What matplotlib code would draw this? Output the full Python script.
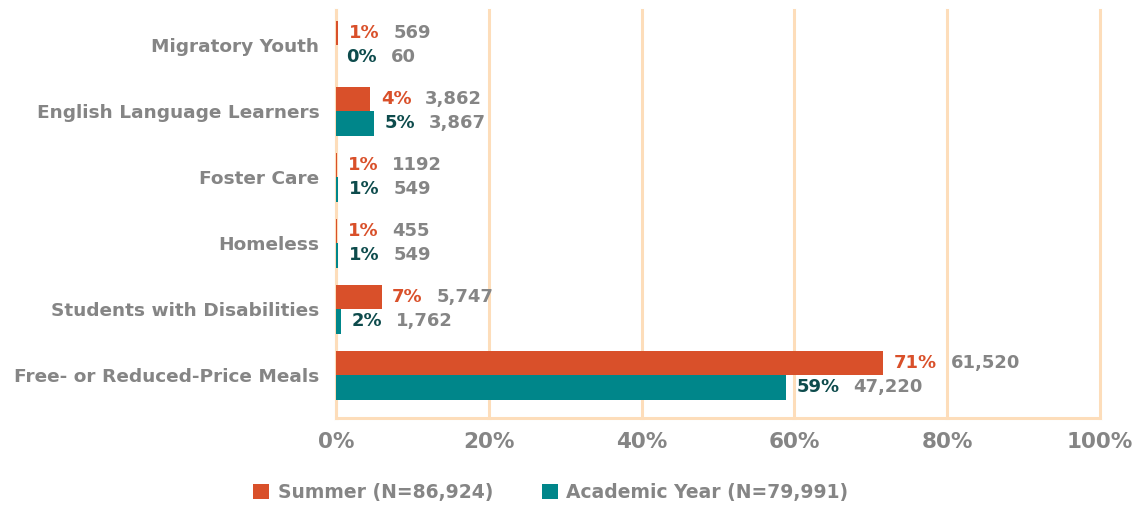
import matplotlib
matplotlib.use("Agg")
import matplotlib.pyplot as plt
import numpy as np

# data (top to bottom)
categories = ["Migratory Youth", "English Language Learners", "Foster Care",
              "Homeless", "Students with Disabilities", "Free- or Reduced-Price Meals"]
summer_pct = [0.3, 4.5, 0.2, 0.2, 6.0, 71.6]
academic_pct = [0.0, 5.0, 0.3, 0.3, 0.7, 58.9]
summer_pct_labels = ["1%", "4%", "1%", "1%", "7%", "71%"]
academic_pct_labels = ["0%", "5%", "1%", "1%", "2%", "59%"]
summer_counts = ["569", "3,862", "1192", "455", "5,747", "61,520"]
academic_counts = ["60", "3,867", "549", "549", "1,762", "47,220"]
legend_labels = ["Summer (N=86,924)", "Academic Year (N=79,991)"]

orange = "#D9502A"
teal = "#00868A"
dark_teal = "#0D4B4C"
gray = "#858585"
peach = "#FDDDBA"

plt.rcParams["font.family"] = ["DejaVu Sans"]
plt.rcParams["font.weight"] = "bold"

fig = plt.figure(figsize=(11.45, 5.08), dpi=100)
ax = fig.add_axes([0.2934, 0.177, 0.6673, 0.803])

n = len(categories)
y = np.arange(n)[::-1]
h = 0.37

ax.barh(y + h / 2, summer_pct, height=h, color=orange, label=legend_labels[0], zorder=3)
ax.barh(y - h / 2, academic_pct, height=h, color=teal, label=legend_labels[1], zorder=3)

def add_labels(ys, vals, pcts, counts, pcolor):
    for yy, v, p, c in zip(ys, vals, pcts, counts):
        t = ax.annotate(p, xy=(v, yy), xytext=(7.5, 0), textcoords="offset points",
                        va="center", ha="left", color=pcolor, fontsize=13,
                        fontweight="bold", zorder=4)
        ax.annotate(c, xy=(1, 0.5), xycoords=t, xytext=(10, 0),
                    textcoords="offset points", va="center", ha="left",
                    color=gray, fontsize=13, fontweight="bold", zorder=4)

add_labels(y + h / 2, summer_pct, summer_pct_labels, summer_counts, orange)
add_labels(y - h / 2, academic_pct, academic_pct_labels, academic_counts, dark_teal)

ax.set_xlim(0, 100)
ax.set_ylim(-0.65, n - 1 + 0.53)
ax.set_yticks(y)
ax.set_yticklabels(categories, color=gray, fontsize=13.3, fontweight="bold")
ax.set_xticks([0, 20, 40, 60, 80, 100])
ax.set_xticklabels(["0%", "20%", "40%", "60%", "80%", "100%"], color=gray,
                   fontsize=15.5, fontweight="bold")
ax.tick_params(axis="both", length=0)
ax.tick_params(axis="x", pad=10)
ax.tick_params(axis="y", pad=12)

ax.grid(axis="x", color=peach, linewidth=2.2, zorder=0)
for line in ax.get_xgridlines():
    line.set_clip_on(False)
for s in ["top", "right"]:
    ax.spines[s].set_visible(False)
ax.spines["left"].set_color(peach)
ax.spines["left"].set_linewidth(2.2)
ax.spines["bottom"].set_color(peach)
ax.spines["bottom"].set_linewidth(2.2)

leg = fig.legend(loc="center", bbox_to_anchor=(0.481, 0.03), ncol=2, frameon=False,
                 fontsize=13.5, handlelength=0.85, handleheight=0.85, handletextpad=0.45,
                 columnspacing=2.6)
for t in leg.get_texts():
    t.set_color(gray)

fig.savefig("out.png", dpi=100)
